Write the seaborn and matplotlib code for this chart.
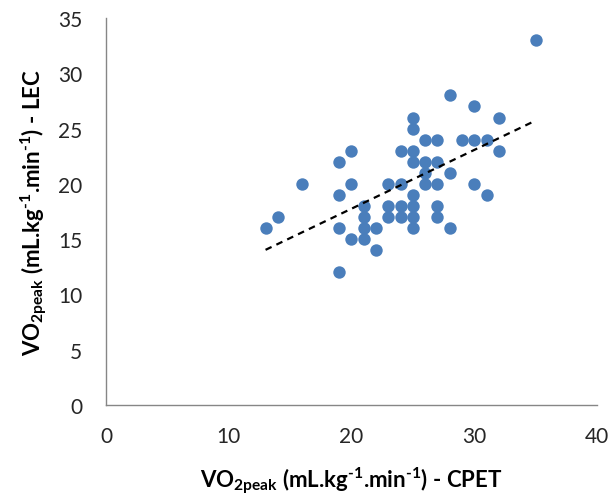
import numpy as np
import pandas as pd
import matplotlib
matplotlib.use("Agg")
import matplotlib.pyplot as plt
import seaborn as sns

# VO2peak medido no teste cardiopulmonar (CPET) e estimado pelo LEC
vo2_cpet = [13, 14, 16,
            19, 19, 19, 19,
            20, 20, 20,
            21, 21, 21, 21,
            22, 22,
            23, 23, 23,
            24, 24, 24, 24,
            25, 25, 25, 25, 25, 25, 25, 25,
            26, 26, 26, 26,
            27, 27, 27, 27, 27,
            28, 28, 28,
            29,
            30, 30, 30,
            31, 31,
            32, 32,
            35]
vo2_lec = [16, 17, 20,
           22, 19, 16, 12,
           23, 20, 15,
           18, 17, 16, 15,
           16, 14,
           20, 18, 17,
           23, 20, 18, 17,
           26, 25, 23, 22, 19, 18, 17, 16,
           24, 22, 21, 20,
           24, 22, 20, 18, 17,
           28, 21, 16,
           24,
           27, 24, 20,
           24, 19,
           26, 23,
           33]

x_ticks = [0, 10, 20, 30, 40]
y_ticks = [0, 5, 10, 15, 20, 25, 30, 35]

tabela = pd.DataFrame({"cpet": vo2_cpet, "lec": vo2_lec})

sns.set_style("white")
plt.rcParams["font.family"] = ["Lato", "DejaVu Sans"]
plt.rcParams["mathtext.fontset"] = "custom"
plt.rcParams["mathtext.rm"] = "Lato"
plt.rcParams["mathtext.bf"] = "Lato:bold"

fig = plt.figure(figsize=(6.14, 5.02), dpi=100)
ax = fig.add_axes([0.1726, 0.1912, 0.7997, 0.7710])

azul = "#4a7ebb"
sns.regplot(data=tabela, x="cpet", y="lec", ax=ax, ci=None,
            scatter_kws={"s": 80, "color": azul, "linewidths": 0, "alpha": 1},
            line_kws={"color": "black", "lw": 1.6, "dashes": (3, 2.4)})

ax.set_xlim(0, 40)
ax.set_ylim(0, 35)
ax.set_xticks(x_ticks)
ax.set_yticks(y_ticks)
ax.tick_params(axis="both", length=0, labelsize=15, colors="#262626")
ax.tick_params(axis="x", pad=15)
ax.tick_params(axis="y", pad=17)

for lado in ["top", "right"]:
    ax.spines[lado].set_visible(False)
for lado in ["left", "bottom"]:
    ax.spines[lado].set_color("#868686")
    ax.spines[lado].set_linewidth(1.0)

# hifen (U+2010) nos expoentes, como no original
rotulo = r"VO$_{\mathbf{2peak}}$ (mL.kg$^{\mathbf{‐1}}$.min$^{\mathbf{‐1}}$) - "
ax.set_xlabel(rotulo + "CPET", fontsize=16, fontweight="bold", color="black", labelpad=14)
ax.set_ylabel(rotulo + "LEC", fontsize=16, fontweight="bold", color="black", labelpad=6)

fig.savefig("out.png", dpi=100)
